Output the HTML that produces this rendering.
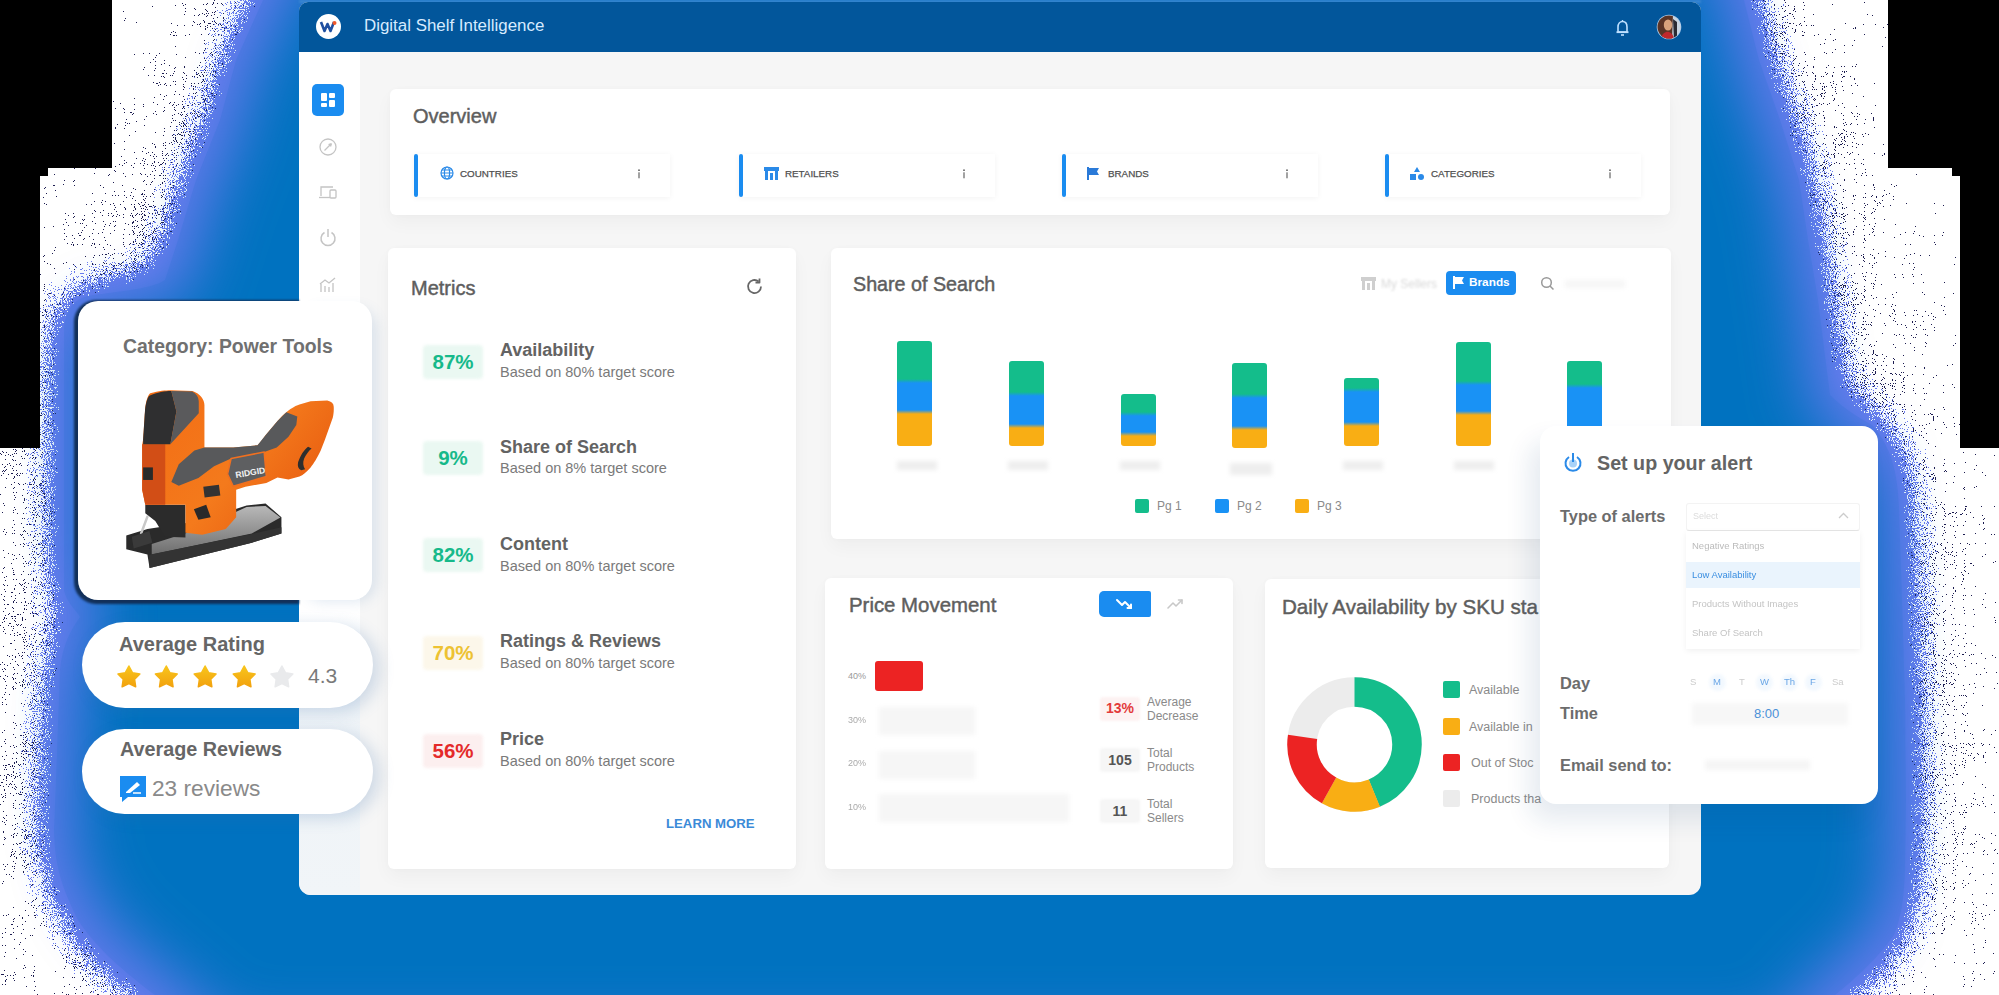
<!DOCTYPE html>
<html><head><meta charset="utf-8">
<style>
*{box-sizing:border-box;margin:0;padding:0}
html,body{width:1999px;height:995px;overflow:hidden;background:#fff;font-family:"Liberation Sans",sans-serif;color:#5c5c5c}
.a{position:absolute}
.blk{position:absolute;background:#000}
.card{position:absolute;background:#fff;border-radius:6px;box-shadow:0 8px 18px rgba(0,0,0,.035),0 0 6px rgba(0,0,0,.02)}
.t{position:absolute;white-space:nowrap;line-height:1}
.b{font-weight:700}
.ttl{font-size:20px;color:#5e5e5e;-webkit-text-stroke:.45px #5e5e5e}
.ov{position:absolute;top:154px;width:256px;height:43px;background:#fff;box-shadow:0 1px 6px rgba(0,0,0,.05)}
.ov .bar{position:absolute;left:0;top:0;width:4px;height:43px;border-radius:2px;background:#1a8cf0}
.ov .lb{position:absolute;left:46px;top:15px;font-size:9.8px;color:#505050;letter-spacing:0;line-height:1;-webkit-text-stroke:.25px #505050}
.ov .in{position:absolute;left:223px;top:14px;width:4px;height:12px;filter:blur(.3px)}
.bdg{position:absolute;left:423px;width:60px;height:34px;border-radius:4px;filter:blur(1.5px)}
.mt{position:absolute;left:500px;font-size:18px;font-weight:700;color:#636363;white-space:nowrap;line-height:1}
.ms{position:absolute;left:500px;font-size:14.5px;color:#7a7a7a;white-space:nowrap;line-height:1}
.bv{position:absolute;font-size:20.5px;font-weight:700;white-space:nowrap;line-height:1;width:60px;text-align:center;left:423px}
.sb{position:absolute;width:35px;border-radius:3px;overflow:hidden}
.sb i{display:block}
.lg{position:absolute;width:14px;height:14px;border-radius:2px}
.lgt{position:absolute;font-size:12px;color:#8a8a8a;line-height:1;white-space:nowrap}
</style></head><body>
<!-- BLUE GLOW -->
<svg class="a" style="left:0;top:0" width="1999" height="995" viewBox="0 0 1999 995">
<defs>
<filter id="spray" x="-10%" y="-10%" width="120%" height="120%" color-interpolation-filters="sRGB">
 <feGaussianBlur in="SourceAlpha" stdDeviation="25" result="b"/>
 <feTurbulence type="fractalNoise" baseFrequency="0.95" numOctaves="2" seed="4" result="n"/>
 <feColorMatrix in="n" type="matrix" values="0 0 0 0 0  0 0 0 0 0  0 0 0 0 0  2.5 0 0 0 -0.75" result="na"/>
 <feComposite in="b" in2="na" operator="arithmetic" k1="0" k2="1.4" k3="0.5" k4="-0.082" result="c"/>
 <feComponentTransfer in="c" result="th"><feFuncA type="discrete" tableValues="0 1"/></feComponentTransfer>
 <feFlood flood-color="#6c7cf0"/>
 <feComposite in2="th" operator="in"/>
</filter>
<filter id="dots" x="-15%" y="-15%" width="130%" height="130%" color-interpolation-filters="sRGB">
 <feGaussianBlur in="SourceAlpha" stdDeviation="100" result="b"/>
 <feTurbulence type="fractalNoise" baseFrequency="1.1" numOctaves="1" seed="9" result="n"/>
 <feTurbulence type="fractalNoise" baseFrequency="0.03" numOctaves="2" seed="2" result="n2"/>
 <feColorMatrix in="n" type="matrix" values="0 0 0 0 0  0 0 0 0 0  0 0 0 0 0  1.5 0 0 0 -0.25" result="na"/>
 <feColorMatrix in="n2" type="matrix" values="0 0 0 0 0  0 0 0 0 0  0 0 0 0 0  1.5 0 0 0 -0.25" result="nb"/>
 <feComposite in="na" in2="nb" operator="arithmetic" k1="0" k2="0.85" k3="0.15" k4="0" result="nn"/>
 <feComposite in="b" in2="nn" operator="arithmetic" k1="0" k2="0.447" k3="1" k4="-0.37" result="c"/>
 <feComponentTransfer in="c" result="th"><feFuncA type="discrete" tableValues="0 1"/></feComponentTransfer>
 <feFlood flood-color="#1c1c50"/>
 <feComposite in2="th" operator="in"/>
</filter>
<filter id="inner" x="-10%" y="-10%" width="120%" height="120%">
 <feMorphology operator="erode" radius="18"/>
 <feGaussianBlur stdDeviation="30"/>
</filter>
</defs>
<path d="M290,-60 L263,0 L236,60 L220,120 L196,180 L178,240 L165,280 C150,290 110,292 88,296 C72,300 65,312 64,330 L64,590 C66,602 76,610 80,617 C72,628 62,645 60,670 L56,780 L54,830 C55,860 58,880 78,920 C95,945 115,965 155,995 L215,1050 L1790,1050 L1835,995 C1860,975 1880,955 1894,935 C1902,915 1904,895 1905,870 L1906,800 L1905,700 L1902,600 L1899,510 C1898,470 1890,445 1872,425 C1860,418 1845,410 1830,395 L1818,300 L1808,240 L1799,180 L1780,120 L1759,60 L1744,0 L1729,-60 Z" fill="#000" filter="url(#dots)"/>
<path d="M290,-60 L263,0 L236,60 L220,120 L196,180 L178,240 L165,280 C150,290 110,292 88,296 C72,300 65,312 64,330 L64,590 C66,602 76,610 80,617 C72,628 62,645 60,670 L56,780 L54,830 C55,860 58,880 78,920 C95,945 115,965 155,995 L215,1050 L1790,1050 L1835,995 C1860,975 1880,955 1894,935 C1902,915 1904,895 1905,870 L1906,800 L1905,700 L1902,600 L1899,510 C1898,470 1890,445 1872,425 C1860,418 1845,410 1830,395 L1818,300 L1808,240 L1799,180 L1780,120 L1759,60 L1744,0 L1729,-60 Z" fill="#000" filter="url(#spray)"/>
<path d="M290,-60 L263,0 L236,60 L220,120 L196,180 L178,240 L165,280 C150,290 110,292 88,296 C72,300 65,312 64,330 L64,590 C66,602 76,610 80,617 C72,628 62,645 60,670 L56,780 L54,830 C55,860 58,880 78,920 C95,945 115,965 155,995 L215,1050 L1790,1050 L1835,995 C1860,975 1880,955 1894,935 C1902,915 1904,895 1905,870 L1906,800 L1905,700 L1902,600 L1899,510 C1898,470 1890,445 1872,425 C1860,418 1845,410 1830,395 L1818,300 L1808,240 L1799,180 L1780,120 L1759,60 L1744,0 L1729,-60 Z" fill="#6079ea"/>
<path d="M290,-60 L263,0 L236,60 L220,120 L196,180 L178,240 L165,280 C150,290 110,292 88,296 C72,300 65,312 64,330 L64,590 C66,602 76,610 80,617 C72,628 62,645 60,670 L56,780 L54,830 C55,860 58,880 78,920 C95,945 115,965 155,995 L215,1050 L1790,1050 L1835,995 C1860,975 1880,955 1894,935 C1902,915 1904,895 1905,870 L1906,800 L1905,700 L1902,600 L1899,510 C1898,470 1890,445 1872,425 C1860,418 1845,410 1830,395 L1818,300 L1808,240 L1799,180 L1780,120 L1759,60 L1744,0 L1729,-60 Z" fill="#0472c0" filter="url(#inner)"/>
</svg>

<!-- black corner regions -->
<div class="blk" style="left:0;top:0;width:112px;height:168px"></div>
<div class="blk" style="left:0;top:168px;width:48px;height:8px"></div>
<div class="blk" style="left:0;top:176px;width:40px;height:272px"></div>
<div class="blk" style="left:1888px;top:0;width:111px;height:168px"></div>
<div class="blk" style="left:1952px;top:168px;width:47px;height:8px"></div>
<div class="blk" style="left:1960px;top:176px;width:39px;height:272px"></div>

<!-- WINDOW -->
<div class="a" style="left:299px;top:0;width:1402px;height:3px;background:#3a86d0;filter:blur(1px)"></div>
<div class="a" style="left:299px;top:2px;width:1402px;height:893px;border-radius:9px 9px 12px 12px;background:#f6f6f6;overflow:hidden">
  <div class="a" style="left:0;top:0;width:1402px;height:50px;background:#02569b"></div>
  <div class="a" style="left:0;top:50px;width:61px;height:843px;background:linear-gradient(#fff 0,#fff 560px,#eef3f7 640px,#f1f5f8 100%)"></div>
</div>
<!-- header content -->
<div class="a" style="left:316px;top:14px;width:25px;height:25px;border-radius:50%;background:#fff"></div>
<svg class="a" style="left:319px;top:19px" width="19" height="15" viewBox="0 0 19 15"><path d="M2,3 L5.5,12 L8.5,5 L11.5,12 L15,3" fill="none" stroke="#1f4fa0" stroke-width="2.6" stroke-linejoin="round"/><circle cx="15.5" cy="4" r="2" fill="#f0582a"/></svg>
<div class="t" style="left:364px;top:18px;font-size:16.9px;color:#d6ebff">Digital Shelf Intelligence</div>
<svg class="a" style="left:1615px;top:19px" width="15" height="18" viewBox="0 0 15 18"><path d="M3,13 L3,8 C3,4.5 5,2.5 7.5,2.5 C10,2.5 12,4.5 12,8 L12,13 Z" fill="none" stroke="#bfe0ff" stroke-width="1.6"/><path d="M1.5,13.2 L13.5,13.2" stroke="#bfe0ff" stroke-width="1.8"/><path d="M6,16 L9,16" stroke="#bfe0ff" stroke-width="1.6"/><path d="M7.5,1 L7.5,2.5" stroke="#bfe0ff" stroke-width="1.4"/></svg>
<svg class="a" style="left:1656px;top:14px" width="26" height="26" viewBox="0 0 26 26"><defs><clipPath id="av"><circle cx="13" cy="13" r="11.5"/></clipPath></defs>
<circle cx="13" cy="13" r="12.3" fill="#a9c9ea"/>
<g clip-path="url(#av)"><rect width="26" height="26" fill="#c8d4e0"/><path d="M0,0 L17,0 L16,26 L0,26 Z" fill="#5a3426"/><ellipse cx="12" cy="11" rx="4.2" ry="5.5" fill="#d8a27c"/><path d="M4,26 C6,19 10,17 13,18 C16,19 18,22 18,26 Z" fill="#c0282c"/><path d="M17,5 L21,8 L21,26 L18,26 Z" fill="#2a2a32"/></g></svg>

<!-- sidebar -->
<div class="a" style="left:312px;top:84px;width:32px;height:32px;border-radius:5px;background:#1a8cf0"></div>
<svg class="a" style="left:320px;top:92px" width="16" height="16" viewBox="0 0 16 16"><rect x="1" y="1" width="6" height="8" rx="1" fill="#fff"/><rect x="9" y="1" width="6" height="5" rx="1" fill="#fff"/><rect x="1" y="11" width="6" height="4" rx="1" fill="#fff"/><rect x="9" y="8" width="6" height="7" rx="1" fill="#fff"/></svg>
<svg class="a" style="left:318px;top:137px" width="20" height="20" viewBox="0 0 20 20" fill="none" stroke="#c4c4c4" stroke-width="1.3"><circle cx="10" cy="10" r="8"/><path d="M6.5,13.5 L13.5,6.5 M13.5,6.5 L10.5,7.5 M13.5,6.5 L12.5,9.5"/></svg>
<svg class="a" style="left:318px;top:182px" width="20" height="20" viewBox="0 0 20 20" fill="none" stroke="#c4c4c4" stroke-width="1.3"><path d="M3,14 L3,5 L15,5"/><path d="M1,15.5 L12,15.5"/><rect x="12" y="8" width="6" height="8" rx="1"/></svg>
<svg class="a" style="left:318px;top:227px" width="20" height="20" viewBox="0 0 20 20" fill="none" stroke="#c4c4c4" stroke-width="1.5"><path d="M6.5,5.5 A7,7 0 1,0 13.5,5.5"/><path d="M10,2 L10,10"/></svg>
<svg class="a" style="left:318px;top:275px" width="20" height="20" viewBox="0 0 20 20" fill="none" stroke="#c4c4c4" stroke-width="1.3"><path d="M3,17 L3,9 M7,17 L7,11 M11,17 L11,12 M15,17 L15,8"/><path d="M2,9 L7,5 L11,8 L17,3"/></svg>

<!-- OVERVIEW -->
<div class="card" style="left:390px;top:89px;width:1280px;height:126px"></div>
<div class="t ttl" style="left:413px;top:106px">Overview</div>
<div class="ov" style="left:414px"><div class="bar"></div>
 <svg class="a" style="left:26px;top:12px" width="14" height="14" viewBox="0 0 14 14" fill="none" stroke="#2a8ae8" stroke-width="1.2"><circle cx="7" cy="7" r="6"/><ellipse cx="7" cy="7" rx="2.6" ry="6"/><path d="M1,7 L13,7 M2,4 L12,4 M2,10 L12,10"/></svg>
 <div class="lb">COUNTRIES</div><svg class="in" viewBox="0 0 4 14"><circle cx="2" cy="2.5" r="1.1" fill="#666"/><rect x="1.3" y="5" width="1.4" height="7" fill="#666"/></svg></div>
<div class="ov" style="left:739px"><div class="bar"></div>
 <svg class="a" style="left:25px;top:13px" width="15" height="13" viewBox="0 0 15 13" fill="#2a8ae8"><rect x="0" y="0" width="15" height="4"/><rect x="1" y="4" width="3" height="9"/><rect x="6" y="6" width="3" height="7"/><rect x="11" y="4" width="3" height="9"/></svg>
 <div class="lb">RETAILERS</div><svg class="in" viewBox="0 0 4 14"><circle cx="2" cy="2.5" r="1.1" fill="#666"/><rect x="1.3" y="5" width="1.4" height="7" fill="#666"/></svg></div>
<div class="ov" style="left:1062px"><div class="bar"></div>
 <svg class="a" style="left:25px;top:13px" width="13" height="13" viewBox="0 0 13 13" fill="#2a7ad8"><rect x="0" y="0" width="2" height="13"/><path d="M2,1 L12,1 L10,4.5 L12,8 L2,8 Z"/></svg>
 <div class="lb">BRANDS</div><svg class="in" viewBox="0 0 4 14"><circle cx="2" cy="2.5" r="1.1" fill="#666"/><rect x="1.3" y="5" width="1.4" height="7" fill="#666"/></svg></div>
<div class="ov" style="left:1385px"><div class="bar"></div>
 <svg class="a" style="left:25px;top:13px" width="14" height="13" viewBox="0 0 14 13" fill="#2a8ae8"><path d="M7,0 L10,5 L4,5 Z"/><rect x="0" y="7" width="6" height="6"/><circle cx="11" cy="10" r="3"/></svg>
 <div class="lb">CATEGORIES</div><svg class="in" viewBox="0 0 4 14"><circle cx="2" cy="2.5" r="1.1" fill="#666"/><rect x="1.3" y="5" width="1.4" height="7" fill="#666"/></svg></div>

<!-- METRICS -->
<div class="card" style="left:388px;top:248px;width:408px;height:621px"></div>
<div class="t ttl" style="left:411px;top:278px">Metrics</div>
<svg class="a" style="left:745px;top:277px" width="19" height="19" viewBox="0 0 19 19" fill="none" stroke="#666" stroke-width="1.8"><path d="M16,9.5 A6.5,6.5 0 1,1 13.6,4.5"/><path d="M14.5,1.5 L14.5,5.5 L10.5,5.5" stroke-linejoin="round"/></svg>

<div class="bdg" style="top:345px;background:#eaf8f2"></div><div class="bv" style="top:352px;color:#16b98a">87%</div>
<div class="mt" style="top:341px">Availability</div><div class="ms" style="top:365px">Based on 80% target score</div>
<div class="bdg" style="top:441px;background:#eaf8f2"></div><div class="bv" style="top:448px;color:#16b98a">9%</div>
<div class="mt" style="top:438px">Share of Search</div><div class="ms" style="top:461px">Based on 8% target score</div>
<div class="bdg" style="top:538px;background:#eaf8f2"></div><div class="bv" style="top:545px;color:#16b98a">82%</div>
<div class="mt" style="top:535px">Content</div><div class="ms" style="top:559px">Based on 80% target score</div>
<div class="bdg" style="top:636px;background:#fcf7ea"></div><div class="bv" style="top:643px;color:#edc232">70%</div>
<div class="mt" style="top:632px">Ratings &amp; Reviews</div><div class="ms" style="top:656px">Based on 80% target score</div>
<div class="bdg" style="top:734px;background:#fcefef"></div><div class="bv" style="top:741px;color:#e42a2a">56%</div>
<div class="mt" style="top:730px">Price</div><div class="ms" style="top:754px">Based on 80% target score</div>
<div class="t b" style="left:666px;top:817px;font-size:13.2px;color:#3b8ad8">LEARN MORE</div>

<!-- SHARE OF SEARCH -->
<div class="card" style="left:831px;top:248px;width:840px;height:291px"></div>
<div class="t ttl" style="left:853px;top:275px;font-size:19.7px">Share of Search</div>
<svg class="a" style="left:1361px;top:277px;filter:blur(.5px)" width="15" height="13" viewBox="0 0 15 13" fill="#cfcfcf"><rect x="0" y="0" width="15" height="4"/><rect x="1" y="4" width="3" height="9"/><rect x="6" y="6" width="3" height="7"/><rect x="11" y="4" width="3" height="9"/></svg>
<div class="t" style="left:1381px;top:278px;font-size:12px;color:#d9d9d9;filter:blur(.8px)">My Sellers</div>
<div class="a" style="left:1446px;top:271px;width:70px;height:24px;border-radius:4px;background:#1a8cf0"></div>
<svg class="a" style="left:1453px;top:276px" width="12" height="13" viewBox="0 0 12 13" fill="#fff"><rect x="0" y="0" width="2" height="13"/><path d="M2,1 L11,1 L9,4.5 L11,8 L2,8 Z"/></svg>
<div class="t b" style="left:1469px;top:277px;font-size:11.8px;color:#fff">Brands</div>
<svg class="a" style="left:1540px;top:276px" width="15" height="15" viewBox="0 0 15 15" fill="none" stroke="#999" stroke-width="1.5"><circle cx="6.5" cy="6.5" r="4.8"/><path d="M10,10 L13.5,13.5"/></svg>
<div class="a" style="left:1565px;top:280px;width:60px;height:8px;background:#f6f6f6;filter:blur(2px)"></div>

<div class="sb" style="left:897px;top:341px;height:105px;background:linear-gradient(#14bd8b 0px,#14bd8b 38px,#1992f5 42px,#1992f5 69px,#f9ae14 73px,#f9ae14 105px)"></div>
<div class="sb" style="left:1009px;top:361px;height:85px;background:linear-gradient(#14bd8b 0px,#14bd8b 31px,#1992f5 35px,#1992f5 63px,#f9ae14 67px,#f9ae14 85px)"></div>
<div class="sb" style="left:1121px;top:394px;height:52px;background:linear-gradient(#14bd8b 0px,#14bd8b 18px,#1992f5 22px,#1992f5 38px,#f9ae14 42px,#f9ae14 52px)"></div>
<div class="sb" style="left:1232px;top:363px;height:85px;background:linear-gradient(#14bd8b 0px,#14bd8b 31px,#1992f5 35px,#1992f5 63px,#f9ae14 67px,#f9ae14 85px)"></div>
<div class="sb" style="left:1344px;top:378px;height:68px;background:linear-gradient(#14bd8b 0px,#14bd8b 10px,#1992f5 14px,#1992f5 44px,#f9ae14 48px,#f9ae14 68px)"></div>
<div class="sb" style="left:1456px;top:342px;height:104px;background:linear-gradient(#14bd8b 0px,#14bd8b 39px,#1992f5 43px,#1992f5 69px,#f9ae14 73px,#f9ae14 104px)"></div>
<div class="sb" style="left:1567px;top:361px;height:85px;background:linear-gradient(#14bd8b 0px,#14bd8b 23px,#1992f5 27px,#1992f5 85px)"></div>
<div class="a" style="left:897px;top:461px;width:40px;height:9px;background:#eee;filter:blur(2px)"></div>
<div class="a" style="left:1008px;top:461px;width:40px;height:9px;background:#eee;filter:blur(2px)"></div>
<div class="a" style="left:1120px;top:461px;width:40px;height:9px;background:#eee;filter:blur(2px)"></div>
<div class="a" style="left:1230px;top:463px;width:42px;height:12px;background:#eee;filter:blur(2px)"></div>
<div class="a" style="left:1343px;top:461px;width:40px;height:9px;background:#eee;filter:blur(2px)"></div>
<div class="a" style="left:1454px;top:461px;width:40px;height:9px;background:#eee;filter:blur(2px)"></div>
<div class="lg" style="left:1135px;top:499px;background:#14bd8b"></div><div class="lgt" style="left:1157px;top:500px">Pg 1</div>
<div class="lg" style="left:1215px;top:499px;background:#1992f5"></div><div class="lgt" style="left:1237px;top:500px">Pg 2</div>
<div class="lg" style="left:1295px;top:499px;background:#f9ae14"></div><div class="lgt" style="left:1317px;top:500px">Pg 3</div>

<!-- PRICE MOVEMENT -->
<div class="card" style="left:825px;top:578px;width:408px;height:291px"></div>
<div class="t ttl" style="left:849px;top:595px;font-size:20.4px">Price Movement</div>
<div class="a" style="left:1099px;top:591px;width:52px;height:26px;border-radius:5px 2px 2px 5px;background:#1a8cf0"></div>
<svg class="a" style="left:1115px;top:597px" width="20" height="14" viewBox="0 0 20 14" fill="none" stroke="#fff" stroke-width="2" stroke-linecap="round" stroke-linejoin="round"><path d="M2,3 L7,8 L10,5 L16,11"/><path d="M12.5,11 L16,11 L16,7.5"/></svg>
<svg class="a" style="left:1166px;top:596px" width="20" height="14" viewBox="0 0 20 14" fill="none" stroke="#c8c8c8" stroke-width="1.6" stroke-linecap="round" stroke-linejoin="round"><path d="M2,12 L7,7 L10,10 L16,4"/><path d="M12.5,4 L16,4 L16,7.5"/></svg>
<div class="t" style="left:848px;top:672px;font-size:9px;color:#999">40%</div>
<div class="t" style="left:848px;top:716px;font-size:9px;color:#aaa;filter:blur(.3px)">30%</div>
<div class="t" style="left:848px;top:759px;font-size:9px;color:#aaa;filter:blur(.3px)">20%</div>
<div class="t" style="left:848px;top:803px;font-size:9px;color:#aaa;filter:blur(.3px)">10%</div>
<div class="a" style="left:875px;top:661px;width:48px;height:30px;border-radius:3px;background:#ec2323"></div>
<div class="a" style="left:879px;top:707px;width:96px;height:28px;background:#f6f6f6;filter:blur(2px)"></div>
<div class="a" style="left:879px;top:751px;width:96px;height:28px;background:#f6f6f6;filter:blur(2px)"></div>
<div class="a" style="left:879px;top:794px;width:190px;height:28px;background:#f6f6f6;filter:blur(2px)"></div>
<div class="a" style="left:1100px;top:697px;width:40px;height:24px;border-radius:3px;background:#fdf2f2;filter:blur(1px)"></div>
<div class="t b" style="left:1100px;top:701px;width:40px;text-align:center;font-size:14px;color:#e33b3b">13%</div>
<div class="t" style="left:1147px;top:696px;font-size:12px;color:#8a8a8a;line-height:13.5px">Average<br>Decrease</div>
<div class="a" style="left:1100px;top:748px;width:40px;height:24px;border-radius:3px;background:#f6f6f6;filter:blur(1px)"></div>
<div class="t b" style="left:1100px;top:753px;width:40px;text-align:center;font-size:14px;color:#555">105</div>
<div class="t" style="left:1147px;top:747px;font-size:12px;color:#8a8a8a;line-height:13.8px">Total<br>Products</div>
<div class="a" style="left:1100px;top:799px;width:40px;height:24px;border-radius:3px;background:#f6f6f6;filter:blur(1px)"></div>
<div class="t b" style="left:1100px;top:804px;width:40px;text-align:center;font-size:14px;color:#555">11</div>
<div class="t" style="left:1147px;top:798px;font-size:12px;color:#8a8a8a;line-height:13.8px">Total<br>Sellers</div>

<!-- DAILY AVAILABILITY -->
<div class="card" style="left:1265px;top:579px;width:404px;height:289px"></div>
<div class="t ttl" style="left:1282px;top:597px;font-size:20.6px">Daily Availability by SKU sta</div>
<svg class="a" style="left:1284px;top:674px" width="141" height="141" viewBox="-70.5 -70.5 141 141">
<g fill="none" stroke-width="29.5">
<circle r="52.5" stroke="#ececec"/>
<circle r="52.5" stroke="#14bd8b" stroke-dasharray="144.5 400" transform="rotate(-90)"/>
<circle r="52.5" stroke="#f9ae14" stroke-dasharray="47 400" transform="rotate(67.7)"/>
<circle r="52.5" stroke="#ec2323" stroke-dasharray="63.5 400" transform="rotate(119)"/>
</g></svg>
<div class="lg" style="left:1443px;top:681px;width:17px;height:17px;background:#14bd8b"></div><div class="lgt" style="left:1469px;top:684px;font-size:12.5px">Available</div>
<div class="lg" style="left:1443px;top:718px;width:17px;height:17px;background:#f9ae14"></div><div class="lgt" style="left:1469px;top:721px;font-size:12.5px">Available in</div>
<div class="lg" style="left:1443px;top:754px;width:17px;height:17px;background:#ec2323"></div><div class="lgt" style="left:1471px;top:757px;font-size:12.5px">Out of Stoc</div>
<div class="lg" style="left:1443px;top:790px;width:17px;height:17px;background:#ececec"></div><div class="lgt" style="left:1471px;top:793px;font-size:12.5px">Products tha</div>


<!-- ALERT CARD -->
<div class="a" style="left:1540px;top:426px;width:338px;height:378px;border-radius:16px;background:#fff;box-shadow:-10px 16px 26px rgba(20,60,120,.11)"></div>
<svg class="a" style="left:1563px;top:452px" width="20" height="21" viewBox="0 0 20 21" fill="none" stroke="#2a8ae8" stroke-width="2"><path d="M6,5 A7.5,7.5 0 1,0 14,5"/><path d="M10,1 L10,10"/><circle cx="10" cy="11.5" r="4" fill="#a8d2f8" stroke="none"/><path d="M10,1 L10,10"/></svg>
<div class="t b" style="left:1597px;top:454px;font-size:19.7px;color:#646464">Set up your alert</div>
<div class="t b" style="left:1560px;top:508px;font-size:16.4px;color:#6c6c6c">Type of alerts</div>
<div class="a" style="left:1686px;top:503px;width:174px;height:28px;border:1px solid #f3f3f3;border-bottom-color:#e6e6e6;border-radius:3px;background:#fff"></div>
<div class="t" style="left:1693px;top:512px;font-size:9px;color:#dcdcdc;filter:blur(.6px)">Select</div>
<svg class="a" style="left:1838px;top:512px" width="11" height="7" viewBox="0 0 11 7" fill="none" stroke="#ccc" stroke-width="1.3"><path d="M1,6 L5.5,1.5 L10,6"/></svg>
<div class="a" style="left:1686px;top:531px;width:174px;height:118px;background:#fff;box-shadow:0 2px 6px rgba(0,0,0,.06)"></div>
<div class="t" style="left:1692px;top:541px;font-size:9.5px;color:#bbb;filter:blur(.5px)">Negative Ratings</div>
<div class="a" style="left:1686px;top:562px;width:174px;height:26px;background:#eaf4fd"></div>
<div class="t" style="left:1692px;top:570px;font-size:9.5px;color:#3a8ee0;filter:blur(.3px)">Low Availability</div>
<div class="t" style="left:1692px;top:599px;font-size:9.5px;color:#c4c4c4;filter:blur(.5px)">Products Without Images</div>
<div class="t" style="left:1692px;top:628px;font-size:9.5px;color:#c4c4c4;filter:blur(.5px)">Share Of Search</div>
<div class="t b" style="left:1560px;top:675px;font-size:16.4px;color:#6c6c6c">Day</div>
<div class="t b" style="left:1560px;top:705px;font-size:16.4px;color:#6c6c6c">Time</div>
<div class="t b" style="left:1560px;top:757px;font-size:16.4px;color:#6c6c6c">Email send to:</div>
<div class="t" style="left:1690px;top:677px;font-size:9.5px;color:#ccc;filter:blur(.4px)">S</div>
<div class="a" style="left:1709px;top:674px;width:17px;height:17px;border-radius:50%;background:#f2f8fe;filter:blur(1.5px)"></div><div class="t" style="left:1713px;top:677px;font-size:9.5px;color:#6aa6e6;filter:blur(.3px)">M</div>
<div class="t" style="left:1739px;top:677px;font-size:9.5px;color:#ccc;filter:blur(.4px)">T</div>
<div class="a" style="left:1756px;top:674px;width:17px;height:17px;border-radius:50%;background:#f2f8fe;filter:blur(1.5px)"></div><div class="t" style="left:1760px;top:677px;font-size:9.5px;color:#6aa6e6;filter:blur(.3px)">W</div>
<div class="a" style="left:1781px;top:674px;width:17px;height:17px;border-radius:50%;background:#f2f8fe;filter:blur(1.5px)"></div><div class="t" style="left:1784px;top:677px;font-size:9.5px;color:#6aa6e6;filter:blur(.3px)">Th</div>
<div class="a" style="left:1805px;top:674px;width:17px;height:17px;border-radius:50%;background:#f2f8fe;filter:blur(1.5px)"></div><div class="t" style="left:1810px;top:677px;font-size:9.5px;color:#6aa6e6;filter:blur(.3px)">F</div>
<div class="t" style="left:1832px;top:677px;font-size:9.5px;color:#ccc;filter:blur(.4px)">Sa</div>
<div class="a" style="left:1692px;top:703px;width:156px;height:22px;background:#f7f7f7;filter:blur(2px)"></div>
<div class="t" style="left:1754px;top:707px;font-size:13px;color:#4a90d8">8:00</div>
<div class="a" style="left:1705px;top:760px;width:105px;height:10px;background:#f5f5f5;filter:blur(2px)"></div>

<!-- LEFT FLOATING CARDS -->
<div class="a" style="left:300px;top:305px;width:72px;height:292px;border-radius:20px;box-shadow:4px 4px 14px rgba(70,120,180,.18)"></div>
<div class="a" style="left:74px;top:300px;width:225px;height:304px;border-radius:22px 0 0 22px;background:#12305a;filter:blur(1px)"></div>
<div class="a" style="left:78px;top:301px;width:294px;height:299px;border-radius:20px;background:#fff"></div>
<div class="t b" style="left:123px;top:337px;font-size:19.4px;color:#707070">Category: Power Tools</div>
<svg class="a" style="left:120px;top:380px" width="220" height="195" viewBox="0 0 1123 995">
<defs>
<linearGradient id="og" x1="0" y1="0" x2="1" y2="0.6"><stop offset="0" stop-color="#f36c14"/><stop offset="0.6" stop-color="#f47a1c"/><stop offset="1" stop-color="#e85c10"/></linearGradient>
<linearGradient id="mg" x1="0" y1="0" x2="0" y2="1"><stop offset="0" stop-color="#b8b8b8"/><stop offset="1" stop-color="#6e6e6e"/></linearGradient>
</defs>
<path d="M32,793 L140,760 L404,720 L646,640 L743,630 L824,700 L824,783 L673,830 L151,960 L140,890 L32,864 Z" fill="#2a2a2a"/>
<path d="M162,837 L404,761 L646,648 L743,643 L819,702 L673,783 L162,890 Z" fill="url(#mg)"/>
<path d="M150,892 L673,786 L824,752 L824,783 L673,830 L151,960 Z" fill="#333"/>
<path d="M129,637 L334,637 L334,804 L230,800 L180,720 L129,680 Z" fill="#2b2b2b"/>
<path d="M154,67 C200,55 230,52 260,52 L370,56 C410,70 431,100 431,128 L431,345 L578,345 L702,333 C725,310 735,290 747,277 L804,209 C820,190 835,175 849,164 C880,140 900,130 916,125 L973,108 L1058,105 C1080,110 1091,120 1091,136 C1092,160 1090,175 1086,192 L1046,305 L1024,361 C1005,400 990,425 973,446 C950,470 935,485 916,492 L860,508 L804,497 L747,525 L640,545 L593,560 L593,700 L540,760 L420,790 L334,780 L334,637 L129,637 L113,560 L113,330 L118,303 L128,150 C132,110 140,80 154,67 Z" fill="url(#og)"/>
<path d="M113,328 L231,328 L231,637 L129,637 L113,560 Z" fill="#d24e16"/>
<path d="M150,80 C190,62 230,56 262,56 L288,160 L257,328 L118,328 L118,303 L128,150 C132,115 140,90 150,80 Z" fill="#2f2f30"/>
<path d="M262,56 L368,58 C392,70 402,90 402,110 L402,170 L257,328 L288,160 Z" fill="#5a5a5c"/>
<path d="M431,345 L578,345 L702,333 L747,277 L804,209 L849,164 L905,186 L900,230 L860,290 L800,345 L736,367 L567,401 L480,440 L400,500 L300,540 L262,520 L300,430 L380,360 Z" fill="#58595b"/>
<path d="M549,480 L567,401 L736,367 L747,492 L578,542 Z" fill="#5e5f61" stroke="#f07020" stroke-width="8" stroke-linejoin="round"/>
<text x="588" y="488" font-family="Liberation Sans" font-weight="700" font-size="44" fill="#f2f2f2" transform="rotate(-10 660 470)">RIDGID</text>
<path d="M960,340 C940,355 920,385 909,420 C905,440 910,455 925,461 L945,455 C935,440 932,420 940,400 C950,380 965,360 978,350 Z" fill="#2e2e2e"/>
<rect x="118" y="446" width="50" height="64" fill="#2a2a2a"/>
<path d="M108,783 L140,697" stroke="#c8c8c8" stroke-width="13" stroke-linecap="round"/>
<path d="M60,800 L150,770 L165,830 L70,860 Z" fill="#3a3a3a"/>
<path d="M425,545 L505,535 L512,590 L432,600 Z" fill="#333"/>
<path d="M377,660 L440,637 L463,700 L400,713 Z" fill="#2a2a2a"/>
</svg>
<div class="a" style="left:82px;top:622px;width:291px;height:86px;border-radius:43px;background:#fff;box-shadow:6px 4px 16px rgba(60,110,170,.22)"></div>
<div class="t b" style="left:119px;top:634px;font-size:20px;color:#666">Average Rating</div>
<svg class="a" style="left:100px;top:650px" width="200" height="50" viewBox="100 650 200 50"><defs><linearGradient id="sg" x1="0" y1="0" x2="0" y2="1"><stop offset="0" stop-color="#f8c51c"/><stop offset="1" stop-color="#f2a20e"/></linearGradient></defs><path d="M128.90,666.00 L132.43,672.65 L139.84,673.95 L134.61,679.35 L135.66,686.80 L128.90,683.50 L122.14,686.80 L123.19,679.35 L117.96,673.95 L125.37,672.65 Z" fill="url(#sg)" stroke="url(#sg)" stroke-width="1.5" stroke-linejoin="round"/><path d="M166.30,666.00 L169.83,672.65 L177.24,673.95 L172.01,679.35 L173.06,686.80 L166.30,683.50 L159.54,686.80 L160.59,679.35 L155.36,673.95 L162.77,672.65 Z" fill="url(#sg)" stroke="url(#sg)" stroke-width="1.5" stroke-linejoin="round"/><path d="M205.10,666.00 L208.63,672.65 L216.04,673.95 L210.81,679.35 L211.86,686.80 L205.10,683.50 L198.34,686.80 L199.39,679.35 L194.16,673.95 L201.57,672.65 Z" fill="url(#sg)" stroke="url(#sg)" stroke-width="1.5" stroke-linejoin="round"/><path d="M244.20,666.00 L247.73,672.65 L255.14,673.95 L249.91,679.35 L250.96,686.80 L244.20,683.50 L237.44,686.80 L238.49,679.35 L233.26,673.95 L240.67,672.65 Z" fill="url(#sg)" stroke="url(#sg)" stroke-width="1.5" stroke-linejoin="round"/><path d="M281.90,666.00 L285.43,672.65 L292.84,673.95 L287.61,679.35 L288.66,686.80 L281.90,683.50 L275.14,686.80 L276.19,679.35 L270.96,673.95 L278.37,672.65 Z" fill="#e9eaec" stroke="#e9eaec" stroke-width="1.5" stroke-linejoin="round"/></svg>
<div class="t" style="left:308px;top:665px;font-size:21px;color:#7a7a7a">4.3</div>
<div class="a" style="left:82px;top:729px;width:291px;height:85px;border-radius:43px;background:#fff;box-shadow:6px 4px 16px rgba(60,110,170,.22)"></div>
<div class="t b" style="left:120px;top:740px;font-size:19.8px;color:#666">Average Reviews</div>
<svg class="a" style="left:120px;top:776px" width="26" height="26" viewBox="0 0 26 26"><path d="M0,0 L26,0 L26,21 L8,21 L2,26 L2,21 L0,21 Z" fill="#1a8cf0"/><path d="M6,16 L17,6 L20,9 L10,17 L6,17 Z" fill="#fff"/><path d="M13,17 L21,17" stroke="#fff" stroke-width="1.5"/></svg>
<div class="t" style="left:152px;top:777px;font-size:22.7px;color:#8a8a8a">23 reviews</div>
</body></html>
